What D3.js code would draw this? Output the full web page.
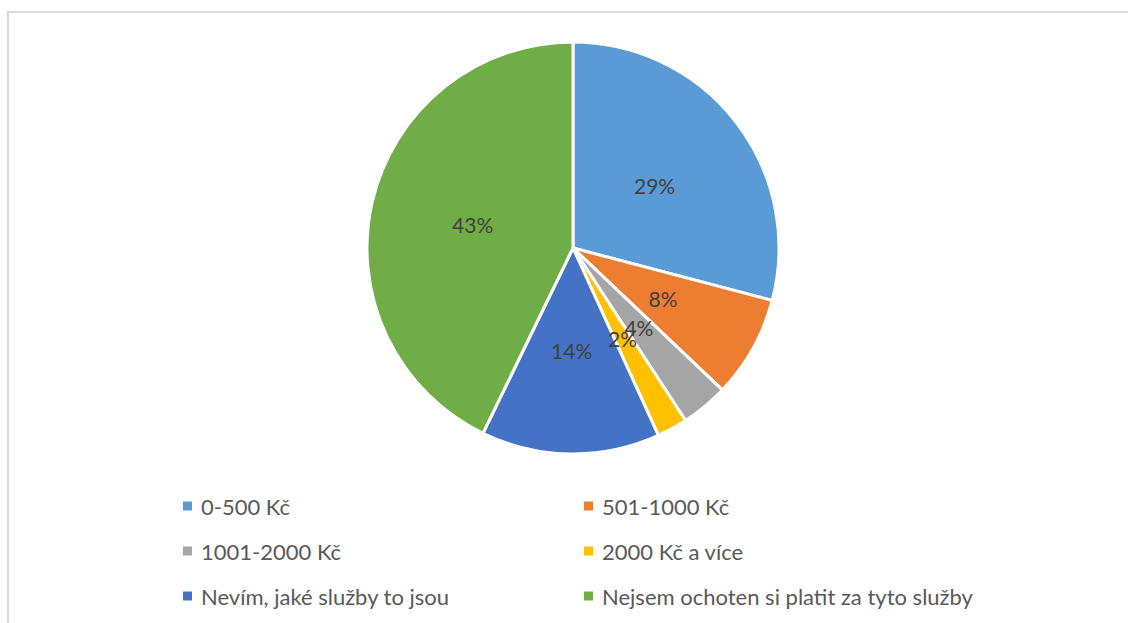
<!DOCTYPE html>
<html>
<head>
<meta charset="utf-8">
<script src="https://cdn.jsdelivr.net/npm/d3@7"></script>
<style>
  html, body { margin: 0; padding: 0; background: #fff; }
  svg { display: block; }
</style>
</head>
<body>
<svg id="chart" width="1128" height="623"></svg>
<script>
const categories = ["0-500 Kč", "501-1000 Kč", "1001-2000 Kč", "2000 Kč a více", "Nevím, jaké služby to jsou", "Nejsem ochoten si platit za tyto služby"];
const values = [29.1, 8.0, 3.7, 2.4, 14.0, 42.8];
const colors = ["#5B9BD5", "#ED7D31", "#A5A5A5", "#FFC000", "#4472C4", "#70AD47"];

const svg = d3.select("#chart");
const FONT = "Lato, 'Open Sans', sans-serif";

// chart border
svg.append("rect")
  .attr("x", 8).attr("y", 12)
  .attr("width", 1300).attr("height", 800)
  .attr("fill", "#fff")
  .attr("stroke", "#d9d9d9").attr("stroke-width", 2);

const cx = 573, cy = 248, r = 206;
const data = categories.map((c, i) => ({ cat: c, value: values[i], color: colors[i] }));
const pie = d3.pie().sort(null).value(d => d.value);
const arcs = pie(data);
const arc = d3.arc().innerRadius(0).outerRadius(r);

const g = svg.append("g").attr("transform", `translate(${cx},${cy})`);
g.selectAll("path").data(arcs).join("path")
  .attr("d", arc)
  .attr("fill", d => d.data.color)
  .attr("stroke", "#fff")
  .attr("stroke-width", 3)
  .attr("stroke-linejoin", "round");

const fmt = d3.format(".0f");
g.selectAll("text.lbl").data(arcs).join("text")
  .attr("class", "lbl")
  .attr("transform", d => `translate(${arc.centroid(d)})`)
  .attr("text-anchor", "middle")
  .attr("dominant-baseline", "central")
  .attr("font-family", FONT)
  .attr("font-size", 21)
  .attr("fill", "#404040")
  .text(d => fmt(d.data.value) + "%");

// legend
const colX = d3.scaleOrdinal().domain([0, 1]).range([183, 584]);
const rowY = d3.scaleLinear().domain([0, 1]).range([506, 551]);
const lg = svg.append("g");
const items = lg.selectAll("g").data(data).join("g")
  .attr("transform", (d, i) => `translate(${colX(i % 2)},${rowY(Math.floor(i / 2))})`);
items.append("rect")
  .attr("x", 0).attr("y", -4.5)
  .attr("width", 9).attr("height", 9)
  .attr("fill", d => d.color);
items.append("text")
  .attr("x", 18).attr("y", 0)
  .attr("dominant-baseline", "central")
  .attr("font-family", FONT)
  .attr("font-size", 22)
  .attr("fill", "#595959")
  .text(d => d.cat);
</script>
</body>
</html>
